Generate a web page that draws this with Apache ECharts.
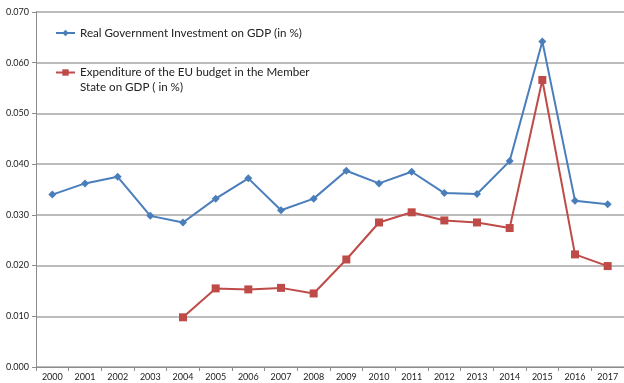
<!DOCTYPE html>
<html>
<head>
<meta charset="utf-8">
<script src="https://cdn.jsdelivr.net/npm/echarts@6/dist/echarts.min.js"></script>
<style>
  html, body { margin: 0; padding: 0; background: #fff; }
  #chart { width: 624px; height: 383px; }
</style>
</head>
<body>
<div id="chart"></div>
<script>
// Years on the category axis
const years = ['2000','2001','2002','2003','2004','2005','2006','2007','2008',
               '2009','2010','2011','2012','2013','2014','2015','2016','2017'];

// Real government investment as a share of GDP
const govInvestment = [0.0340, 0.0362, 0.0375, 0.0298, 0.0285, 0.0332, 0.0372, 0.0309, 0.0332,
                       0.0387, 0.0362, 0.0385, 0.0343, 0.0341, 0.0406, 0.0642, 0.0328, 0.0321];

// EU budget expenditure in the member state as a share of GDP (no data before 2004)
const euExpenditure = [null, null, null, null, 0.0098, 0.0155, 0.0153, 0.0156, 0.0145,
                       0.0212, 0.0285, 0.0305, 0.0289, 0.0285, 0.0274, 0.0566, 0.0222, 0.0199];

const seriesNames = [
  'Real Government Investment on GDP (in %)',
  'Expenditure of the EU budget in the Member State on GDP ( in %)'
];

const FONT = 'Lato, "Open Sans", sans-serif';
const BLUE = '#4a7ebb';
const RED = '#be4b48';

const chart = echarts.init(document.getElementById('chart'));

chart.setOption({
  animation: false,
  backgroundColor: '#ffffff',
  grid: { left: 36, top: 12, width: 598, height: 355, containLabel: false },
  legend: [
    {
      data: [seriesNames[0]],
      left: 50, top: 22,
      itemWidth: 19, itemHeight: 8,
      textStyle: { fontFamily: FONT, fontSize: 11.6, color: '#222' }
    },
    {
      data: [seriesNames[1]],
      left: 50, top: 45,
      itemWidth: 19, itemHeight: 8,
      // leading blank line keeps the icon level with the first line of the wrapped label
      formatter: () => '\nExpenditure of the EU budget in the Member\nState on GDP ( in %)',
      textStyle: { fontFamily: FONT, fontSize: 11.6, color: '#222', lineHeight: 15 }
    }
  ],
  xAxis: {
    type: 'category',
    data: years,
    boundaryGap: true,
    axisLine: { lineStyle: { color: '#8c8c8c', width: 1 } },
    axisTick: { show: true, length: 4, lineStyle: { color: '#8c8c8c' } },
    axisLabel: { fontFamily: FONT, fontSize: 9, color: '#222', margin: 6 }
  },
  yAxis: {
    type: 'value',
    min: 0, max: 0.07, interval: 0.01,
    axisLine: { show: true, lineStyle: { color: '#8c8c8c', width: 1 } },
    axisTick: { show: true, length: 4, lineStyle: { color: '#8c8c8c' } },
    axisLabel: { fontFamily: FONT, fontSize: 9, color: '#222', margin: 7,
                 formatter: v => v.toFixed(3) },
    splitLine: { lineStyle: { color: '#a6a6a6', width: 1.5 } }
  },
  series: [
    {
      name: seriesNames[0],
      type: 'line',
      data: govInvestment,
      symbol: 'diamond',
      symbolSize: 8,
      lineStyle: { color: BLUE, width: 2 },
      itemStyle: { color: BLUE }
    },
    {
      name: seriesNames[1],
      type: 'line',
      data: euExpenditure,
      symbol: 'rect',
      symbolSize: 8,
      connectNulls: false,
      lineStyle: { color: RED, width: 2 },
      itemStyle: { color: RED }
    }
  ]
});
</script>
</body>
</html>
